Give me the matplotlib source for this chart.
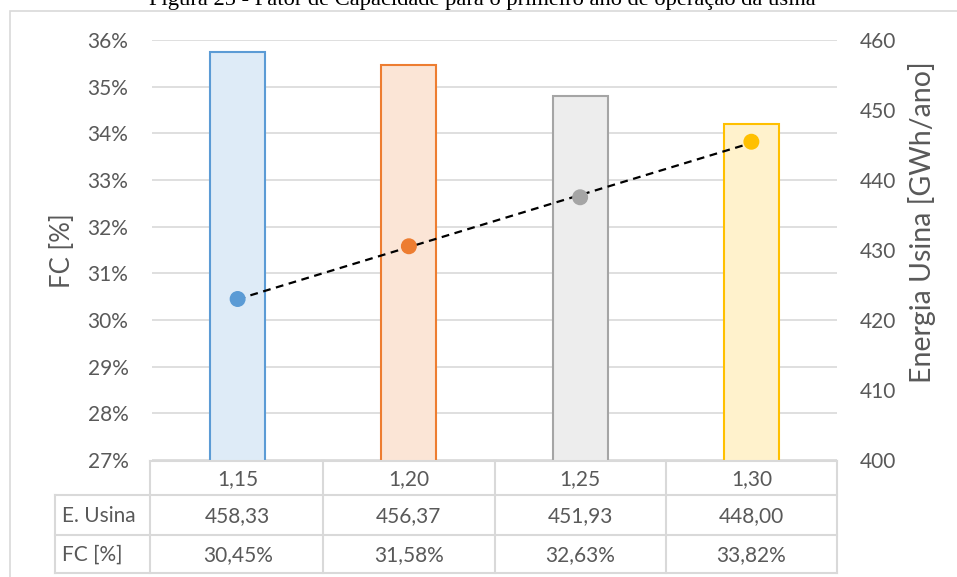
import numpy as np
import matplotlib
matplotlib.use("Agg")
import matplotlib.pyplot as plt
from matplotlib.lines import Line2D
from matplotlib.patches import Rectangle
from matplotlib.transforms import blended_transform_factory

# Data
categories = ["1,15", "1,20", "1,25", "1,30"]
energia = [458.33, 456.37, 451.93, 448.00]      # GWh/ano
fc = [30.45, 31.58, 32.63, 33.82]               # %
row_labels = ["E. Usina", "FC [%]"]
title = "Figura 25 - Fator de Capacidade para o primeiro ano de operação da usina"

edge_colors = ["#5B9BD5", "#ED7D31", "#A5A5A5", "#FFC000"]
fill_colors = ["#DEEBF7", "#FBE5D6", "#EDEDED", "#FFF2CC"]
text_color = "#595959"
grid_color = "#D9D9D9"

plt.rcParams["font.family"] = ["Lato", "DejaVu Sans"]
FS = 15

W, H = 957, 577
fig = plt.figure(figsize=(W / 100, H / 100), dpi=100)

def fx(px):
    return px / W

def fy(py):
    return 1 - py / H

# Outer chart frame (runs off the right and bottom edges)
fig.add_artist(Rectangle((fx(10), fy(700)), fx(1200), fy(11) - fy(700),
                         transform=fig.transFigure, fill=False,
                         edgecolor=grid_color, linewidth=1.2))

# Caption above the frame
fig.text(fx(482), fy(5), title, ha="center", va="baseline",
         family="Liberation Serif", fontsize=16.2, color="black")

left, right, top, bottom = 152, 837, 40, 460
rect = [fx(left), fy(bottom), fx(right) - fx(left), fy(top) - fy(bottom)]

x = np.arange(len(categories))

# Left axis: FC gridlines and ticks
ax = fig.add_axes(rect)
ax.set_xlim(-0.5, len(categories) - 0.5)
ax.set_ylim(27, 36)
ax.set_yticks(np.arange(27, 37, 1))
ax.set_yticklabels([f"{v}%" for v in range(27, 37)])
ax.grid(axis="y", color=grid_color, linewidth=1.2)
ax.set_axisbelow(True)
ax.set_xticks([])
for s in ax.spines.values():
    s.set_visible(False)
ax.tick_params(axis="y", length=0, pad=17, labelsize=FS, labelcolor=text_color)

# Right axis: energy bars
ax2 = ax.twinx()
ax2.set_ylim(400, 460)
ax2.set_yticks(np.arange(400, 461, 10))
ax2.bar(x, energia, width=0.32, color=fill_colors, edgecolor=edge_colors,
        linewidth=1.5)
for s in ax2.spines.values():
    s.set_visible(False)
ax2.tick_params(axis="y", length=0, pad=16.5, labelsize=FS,
                labelcolor=text_color)

# Axis titles
fig.text(fx(62), fy(251), "FC [%]", rotation=90, ha="center", va="center",
         fontsize=18.5, color=text_color)
fig.text(fx(922), fy(222), "Energia Usina [GWh/ano]", rotation=90,
         ha="center", va="center", fontsize=20.5, color=text_color)

# FC points and linear trend on the left scale
ax3 = ax.twinx()
ax3.set_ylim(27, 36)
ax3.axis("off")
coef = np.polyfit(x, fc, 1)
ax3.plot(x[[0, -1]], np.polyval(coef, x[[0, -1]]), color="black",
         linewidth=1.6, dashes=(3.5, 2.5), zorder=2)
ax3.scatter(x, fc, s=110, color=edge_colors, zorder=3)

# Data table under the plot
bt = blended_transform_factory(ax.transData, fig.transFigure)
row_y = [461, 495, 535, 573]
lw = 1.5

def hline(y, x0_fig, x1_fig):
    fig.add_artist(Line2D([x0_fig, x1_fig], [fy(y), fy(y)],
                          transform=fig.transFigure, color=grid_color,
                          linewidth=lw))

def vline(xf, y0, y1):
    fig.add_artist(Line2D([xf, xf], [fy(y0), fy(y1)],
                          transform=fig.transFigure, color=grid_color,
                          linewidth=lw))

hline(row_y[0], fx(150), fx(right))
for y in row_y[1:]:
    hline(y, fx(55), fx(right))
vline(fx(55), row_y[1], row_y[3])
bounds = np.arange(len(categories) + 1) - 0.5
for b in bounds:
    xf = fig.transFigure.inverted().transform(ax.transData.transform((b, 0)))[0]
    if b == bounds[0]:
        xf = fx(150)
    vline(xf, row_y[0], row_y[3])

cells = [categories,
         [f"{v:.2f}".replace(".", ",") for v in energia],
         [f"{v:.2f}%".replace(".", ",") for v in fc]]
for r, vals in enumerate(cells):
    yc = fy((row_y[r] + row_y[r + 1]) / 2 + 1)
    for i, t in enumerate(vals):
        fig.text(i, yc, t, transform=bt, ha="center", va="center",
                 fontsize=FS, color=text_color)
for r, lab in enumerate(row_labels):
    yc = fy((row_y[r + 1] + row_y[r + 2]) / 2 + 1)
    fig.text(fx(62), yc, lab, ha="left", va="center", fontsize=FS,
             color=text_color)

fig.savefig("out.png", dpi=100)
